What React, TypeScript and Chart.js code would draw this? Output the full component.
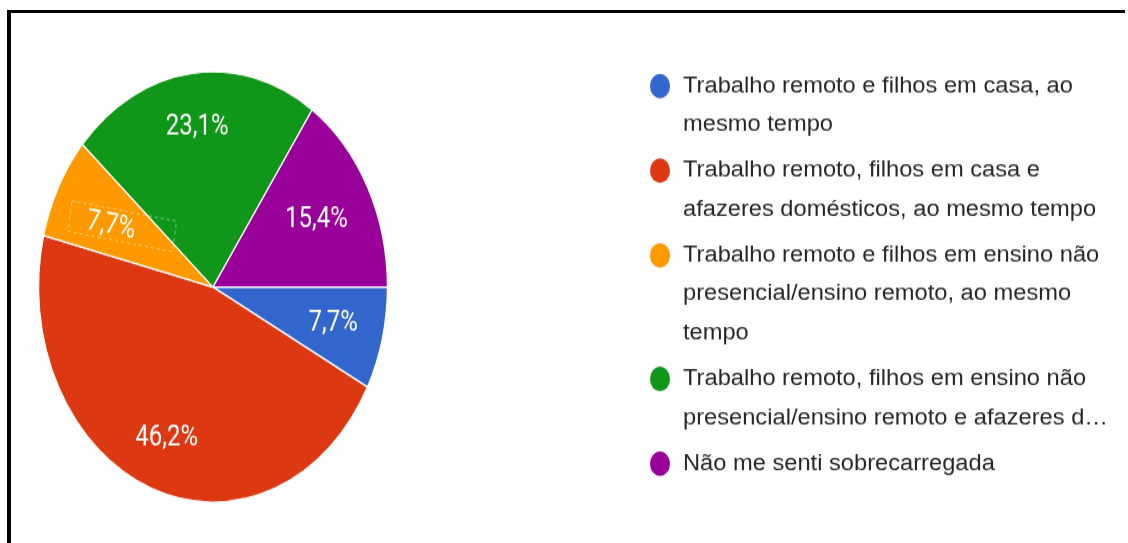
import React, { useEffect, useRef } from "react";
import { Chart, registerables } from "chart.js";

Chart.register(...registerables);

const categories = [
  "Trabalho remoto e filhos em casa, ao mesmo tempo",
  "Trabalho remoto, filhos em casa e afazeres domésticos, ao mesmo tempo",
  "Trabalho remoto e filhos em ensino não presencial/ensino remoto, ao mesmo tempo",
  "Trabalho remoto, filhos em ensino não presencial/ensino remoto e afazeres domésticos, ao mesmo tempo",
  "Não me senti sobrecarregada",
];
const legendLines = [
  ["Trabalho remoto e filhos em casa, ao", "mesmo tempo"],
  ["Trabalho remoto, filhos em casa e", "afazeres domésticos, ao mesmo tempo"],
  ["Trabalho remoto e filhos em ensino não", "presencial/ensino remoto, ao mesmo", "tempo"],
  ["Trabalho remoto, filhos em ensino não", "presencial/ensino remoto e afazeres d…"],
  ["Não me senti sobrecarregada"],
];
const counts = [1, 6, 1, 3, 2];
const colors = ["#3366CC", "#DC3912", "#FF9900", "#109618", "#990099"];

// style settings
const STRETCH = 1.234;
const W = 1128;
const H = Math.round(543 / STRETCH);
const labelRadiusFrac = [0.71, 0.75, 0.66, 0.75, 0.67];
const LEGEND_XSCALE = 1.315;

const labelsPlugin = {
  id: "sliceLabels",
  afterDatasetsDraw(chart: any) {
    const ctx = chart.ctx;
    const meta = chart.getDatasetMeta(0);
    const data = chart.data.datasets[0].data as number[];
    const total = data.reduce((a, b) => a + b, 0);
    ctx.save();
    ctx.font = "24px Roboto";
    ctx.fillStyle = "#ffffff";
    ctx.textAlign = "center";
    ctx.textBaseline = "middle";
    meta.data.forEach((arc: any, i: number) => {
      const p = arc.getProps(["startAngle", "endAngle", "outerRadius", "x", "y"], true);
      const mid = (p.startAngle + p.endAngle) / 2;
      const r = p.outerRadius * labelRadiusFrac[i];
      const lx = p.x + Math.cos(mid) * r;
      const ly = p.y + Math.sin(mid) * r;
      const txt = ((data[i] / total) * 100).toFixed(1).replace(".", ",") + "%";
      if (i === 2) {
        ctx.save();
        ctx.translate(lx, ly + 4);
        ctx.rotate((9 * Math.PI) / 180);
        ctx.fillText(txt, 0, 0);
        ctx.setLineDash([3, 3]);
        ctx.strokeStyle = "rgba(255,255,255,0.55)";
        ctx.lineWidth = 0.8;
        ctx.strokeRect(-42, -14, 106, 25);
        ctx.restore();
      } else {
        ctx.fillText(txt, lx, ly);
      }
    });
    ctx.restore();
  },
};

const legendPlugin = {
  id: "customLegend",
  afterDraw(chart: any) {
    const ctx = chart.ctx;
    const ds = chart.data.datasets[0];
    const x0 = 660;
    const textX = 683;
    const lineH = 31.6;
    const itemGap = 37;
    let y = 69.7;
    ctx.save();
    ctx.font = '18px "Liberation Sans", Arial, sans-serif';
    ctx.textBaseline = "middle";
    ctx.textAlign = "left";
    legendLines.forEach((lines, i) => {
      ctx.fillStyle = ds.backgroundColor[i];
      ctx.beginPath();
      ctx.arc(x0, y, 10, 0, Math.PI * 2);
      ctx.fill();
      ctx.fillStyle = "#262626";
      lines.forEach((ln, j) => {
        ctx.save();
        ctx.translate(textX, y + j * lineH);
        ctx.scale(LEGEND_XSCALE, 1);
        ctx.fillText(ln, 0, 0);
        ctx.restore();
      });
      y += (lines.length - 1) * lineH + itemGap;
    });
    ctx.restore();
  },
};

export default function App() {
  const ref = useRef<HTMLCanvasElement>(null);
  useEffect(() => {
    if (!ref.current) return;
    const chart = new Chart(ref.current, {
      type: "pie",
      data: {
        labels: categories,
        datasets: [
          {
            data: counts,
            backgroundColor: colors,
            borderColor: "#ffffff",
            borderWidth: 1.2,
          },
        ],
      },
      options: {
        responsive: false,
        animation: false,
        rotation: 90,
        layout: { padding: { left: 38, top: 57.6, right: W - 38 - 350, bottom: H - 57.6 - 350 } },
        plugins: { legend: { display: false }, tooltip: { enabled: false } },
      },
      plugins: [labelsPlugin, legendPlugin],
    });
    return () => chart.destroy();
  }, []);
  return (
    <div style={{ position: "absolute", left: 0, top: 0, width: W, height: 543, overflow: "hidden", background: "#fff" }}>
      <canvas
        ref={ref}
        width={W}
        height={H}
        style={{ position: "absolute", left: 0, top: 0, width: W, height: H, transform: `scaleY(${STRETCH})`, transformOrigin: "0 0" }}
      />
      <div
        style={{
          position: "absolute",
          left: 7,
          top: 10,
          width: 1118,
          height: 540,
          borderTop: "3px solid #000",
          borderLeft: "4px solid #000",
          boxSizing: "border-box",
        }}
      />
    </div>
  );
}
